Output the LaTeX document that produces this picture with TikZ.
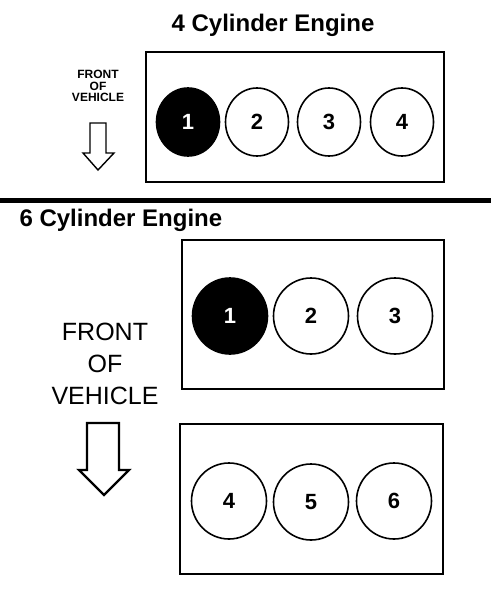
\documentclass[tikz,border=0pt]{standalone}
\usepackage{fontspec}
\setmainfont{Liberation Sans}
\usetikzlibrary{shapes.geometric}

\tikzset{
	block/.style={line width=2pt},
	cyl/.style={ellipse, draw, line width=1.6pt, inner sep=0pt,
		font=\bfseries\fontsize{22}{22}\selectfont},
	cylsmall/.style={cyl, minimum width=63pt, minimum height=68pt},
	cylbig/.style={cyl, minimum width=75pt, minimum height=76pt},
	fired/.style={fill=black, text=white},
	heading/.style={font=\bfseries\fontsize{24}{24}\selectfont},
}

\begin{document}
\begin{tikzpicture}[x=1pt, y=-1pt]
 \useasboundingbox (0,0) rectangle (491,596);

%	4 cylinder
 \node[heading] (title4) at (273,25) {4 Cylinder Engine};
 \node[align=center, font=\bfseries\fontsize{12}{11.5}\selectfont] (front4) at (98,86) {FRONT\\OF\\VEHICLE};
 \draw[line width=1.4pt, line join=miter]
		(90,123) -- (106,123) -- (106,153) -- (114,153) -- (98,170)
		-- (83,153) -- (90,153) -- cycle;
 \draw[block] (146,52) rectangle (444,182);
 \node[cylsmall, fired] (c41) at (188,122) {1};
 \node[cylsmall] (c42) at (257,122) {2};
 \node[cylsmall] (c43) at (329,122) {3};
 \node[cylsmall] (c44) at (402,122) {4};

%	divider
 \draw[line width=5pt] (0,200) -- (491,200);

%	6 cylinder
 \node[heading, anchor=west] (title6) at (16,220) {6 Cylinder Engine};
 \node[align=center, font=\fontsize{25}{32}\selectfont] (front6) at (105,364) {FRONT\\OF\\VEHICLE};
 \draw[line width=2.4pt, line join=miter]
		(87,423) -- (119,423) -- (119,470) -- (129,470) -- (104,495)
		-- (79,470) -- (87,470) -- cycle;
%	bank one
 \draw[block] (182,240) rectangle (444,389);
 \node[cylbig, fired] (c61) at (230,316) {1};
 \node[cylbig] (c62) at (311,316) {2};
 \node[cylbig] (c63) at (395,316) {3};
%	bank two
 \draw[block] (180,424) rectangle (443,574);
 \node[cylbig] (c64) at (229,501) {4};
 \node[cylbig] (c65) at (311,502) {5};
 \node[cylbig] (c66) at (394,501) {6};
\end{tikzpicture}
\end{document}
